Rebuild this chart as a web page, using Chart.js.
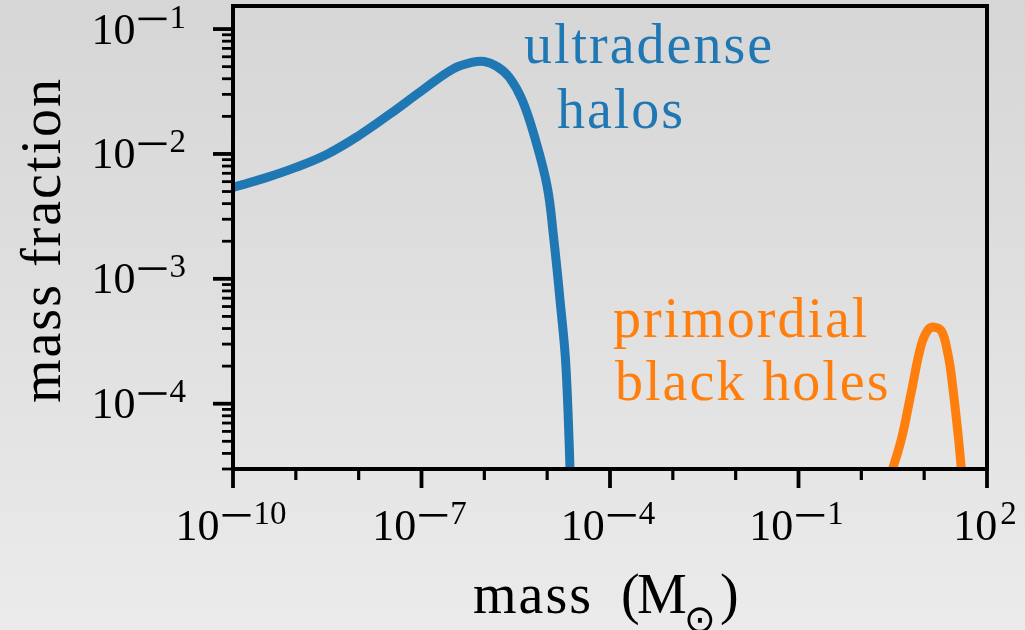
<!DOCTYPE html>
<html>
<head>
<meta charset="utf-8">
<script src="https://cdn.jsdelivr.net/npm/chart.js@4.4.1/dist/chart.umd.min.js"></script>
<style>
  html, body { margin: 0; padding: 0; }
  body {
    width: 1025px; height: 630px; overflow: hidden;
    background: linear-gradient(to bottom, #d6d6d6 0%, #e0e0e0 50%, #ebebeb 100%);
  }
  canvas { display: block; }
</style>
</head>
<body>
<canvas id="chart" width="1025" height="630"></canvas>
<script>
// Mass spectrum of ultradense halos (solar masses -> mass fraction)
const haloMass = [1e-10, 3.2e-10, 1e-9, 3.2e-9, 1e-8, 3.2e-8, 1e-7, 3.2e-7, 6.3e-7, 1e-6,
                  1.6e-6, 2.5e-6, 4e-6, 6.3e-6, 1e-5, 1.26e-5, 1.6e-5, 2e-5, 2.45e-5];
const haloFraction = [5.4e-3, 6.4e-3, 7.8e-3, 1.0e-2, 1.4e-2, 2.1e-2, 3.2e-2, 4.8e-2, 5.4e-2, 5.5e-2,
                      5.0e-2, 4.1e-2, 2.7e-2, 1.37e-2, 5.5e-3, 2.2e-3, 6.8e-4, 1.9e-4, 1.2e-5];

// Mass spectrum of primordial black holes
const pbhMass = [2.8, 4.3, 6.2, 8.9, 11.5, 14.5, 19, 23.5, 27, 35, 40];
const pbhFraction = [2.5e-5, 5.1e-5, 1.22e-4, 2.9e-4, 3.9e-4, 4.1e-4, 3.8e-4, 2.6e-4, 1.7e-4, 5.4e-5, 2.6e-5];

// Axis ranges and tick decades
const xRange = [1e-10, 1e2];
const yRange = [3e-5, 0.153];
const xTickDecades = [-10, -9, -8, -7, -6, -5, -4, -3, -2, -1, 0, 1, 2];
const xLabelDecades = ['-10', '-7', '-4', '-1', '2'];
const yTickDecades = [-5, -4, -3, -2, -1];
const yLabelDecades = ['-4', '-3', '-2', '-1'];

const BLUE = '#1f77b4';
const ORANGE = '#ff7f0e';
const SERIF = '"Liberation Serif", "Times New Roman", serif';

function toPoints(xs, ys) {
  return xs.map((x, i) => ({ x: x, y: ys[i] }));
}

// Widths of the pieces of a "10^exp" label
function powerLayout(ctx, exp) {
  ctx.font = '44px ' + SERIF;
  const wBase = ctx.measureText('10').width;
  const neg = exp.startsWith('-');
  const digits = neg ? exp.slice(1) : exp;
  ctx.font = '33px ' + SERIF;
  const wDigits = ctx.measureText(digits).width;
  const minusW = neg ? 28 : 0;
  const gap1 = 3, gap2 = neg ? 3 : 0;
  return { wBase, wDigits, minusW, gap1, gap2, neg, digits,
           total: wBase + gap1 + minusW + gap2 + wDigits };
}

function drawPower(ctx, exp, left, baseline) {
  const L = powerLayout(ctx, exp);
  ctx.fillStyle = '#000';
  ctx.textAlign = 'left';
  ctx.textBaseline = 'alphabetic';
  ctx.font = '44px ' + SERIF;
  ctx.fillText('10', left, baseline);
  let x = left + L.wBase + L.gap1;
  if (L.neg) {
    ctx.fillRect(x, baseline - 26, L.minusW, 2.6);
    x += L.minusW + L.gap2;
  }
  ctx.font = '33px ' + SERIF;
  ctx.fillText(L.digits, x, baseline - 16);
}

const axesPlugin = {
  id: 'axesFrame',
  afterDatasetsDraw(chart) {
    const ctx = chart.ctx;
    const a = chart.chartArea;
    const xs = chart.scales.x;
    const ys = chart.scales.y;
    ctx.save();
    ctx.strokeStyle = '#000';
    ctx.lineCap = 'butt';

    // frame
    ctx.lineWidth = 4;
    ctx.strokeRect(a.left, a.top, a.right - a.left, a.bottom - a.top);

    // x ticks (each decade; labelled ones are longer)
    xTickDecades.forEach(e => {
      const px = xs.getPixelForValue(Math.pow(10, e));
      const major = xLabelDecades.includes(String(e));
      ctx.lineWidth = major ? 3.8 : 3.2;
      ctx.beginPath();
      ctx.moveTo(px, a.bottom);
      ctx.lineTo(px, a.bottom + (major ? 19 : 11));
      ctx.stroke();
    });

    // y ticks (decades plus 2..9 minor marks)
    yTickDecades.forEach(e => {
      for (let m = 1; m <= 9; m++) {
        const v = m * Math.pow(10, e);
        if (v < yRange[0] * 0.999 || v > yRange[1]) continue;
        const py = ys.getPixelForValue(v);
        ctx.lineWidth = m === 1 ? 3.8 : 2.8;
        ctx.beginPath();
        ctx.moveTo(a.left, py);
        ctx.lineTo(a.left - (m === 1 ? 20 : 11), py);
        ctx.stroke();
      }
    });

    // x tick labels
    xLabelDecades.forEach(exp => {
      const px = xs.getPixelForValue(Math.pow(10, Number(exp)));
      const L = powerLayout(ctx, exp);
      drawPower(ctx, exp, px - L.total / 2 - 2, 540);
    });

    // y tick labels (right aligned)
    yLabelDecades.forEach(exp => {
      const py = ys.getPixelForValue(Math.pow(10, Number(exp)));
      const L = powerLayout(ctx, exp);
      drawPower(ctx, exp, 186 - L.total, py + 14.5);
    });

    // axis titles
    ctx.fillStyle = '#000';
    ctx.font = '56px ' + SERIF;
    ctx.letterSpacing = '2px';
    ctx.textAlign = 'left';
    ctx.textBaseline = 'alphabetic';
    ctx.fillText('mass', 473, 613);
    ctx.letterSpacing = '0px';
    ctx.fillText('(', 621, 613);
    ctx.fillText('M', 637, 613);
    ctx.font = '38px "DejaVu Sans", sans-serif';
    ctx.textAlign = 'center';
    ctx.fillText('\u2299', 700, 632);
    ctx.font = '56px ' + SERIF;
    ctx.textAlign = 'left';
    ctx.fillText(')', 720, 613);

    ctx.save();
    ctx.translate(60, 240);
    ctx.rotate(-Math.PI / 2);
    ctx.letterSpacing = '2px';
    ctx.textAlign = 'center';
    ctx.fillText('mass fraction', 0, 0);
    ctx.restore();

    // series annotations
    ctx.font = '56px ' + SERIF;
    ctx.letterSpacing = '2px';
    ctx.textBaseline = 'alphabetic';
    ctx.fillStyle = BLUE;
    ctx.textAlign = 'center';
    ctx.fillText('ultradense', 649, 63);
    ctx.fillText('halos', 621, 128);
    ctx.fillStyle = ORANGE;
    ctx.textAlign = 'left';
    ctx.fillText('primordial', 613, 337);
    ctx.fillText('black holes', 615, 400);
    ctx.restore();
  }
};

new Chart(document.getElementById('chart'), {
  type: 'line',
  data: {
    datasets: [
      {
        label: 'ultradense halos',
        data: toPoints(haloMass, haloFraction),
        borderColor: BLUE,
        borderWidth: 9,
        pointRadius: 0,
        tension: 0.4,
        fill: false,
        clip: 0
      },
      {
        label: 'primordial black holes',
        data: toPoints(pbhMass, pbhFraction),
        borderColor: ORANGE,
        borderWidth: 9,
        pointRadius: 0,
        tension: 0.4,
        fill: false,
        clip: 0
      }
    ]
  },
  options: {
    responsive: false,
    animation: false,
    events: [],
    layout: { padding: { left: 233, right: 38, top: 6, bottom: 161 } },
    plugins: { legend: { display: false }, tooltip: { enabled: false }, title: { display: false } },
    scales: {
      x: { type: 'logarithmic', min: xRange[0], max: xRange[1], display: false },
      y: { type: 'logarithmic', min: yRange[0], max: yRange[1], display: false }
    }
  },
  plugins: [axesPlugin]
});
</script>
</body>
</html>
